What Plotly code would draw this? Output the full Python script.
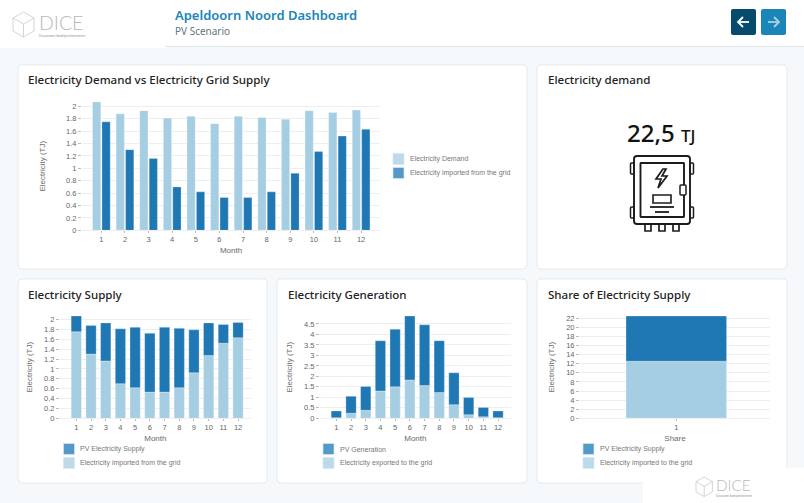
import plotly.graph_objects as go

W, H = 804, 503
months = list(range(1, 13))
demand = [2.07, 1.88, 1.93, 1.81, 1.84, 1.72, 1.84, 1.82, 1.79, 1.93, 1.90, 1.94]
imported = [1.75, 1.30, 1.16, 0.70, 0.62, 0.53, 0.53, 0.62, 0.92, 1.27, 1.52, 1.63]
pv_supply = [0.32, 0.58, 0.77, 1.11, 1.22, 1.19, 1.31, 1.20, 0.87, 0.66, 0.38, 0.31]
exported = [0.03, 0.24, 0.38, 1.30, 1.50, 1.83, 1.56, 1.23, 0.65, 0.17, 0.07, 0.03]
pv_generation = [0.32, 0.81, 1.14, 2.40, 2.75, 3.05, 2.90, 2.47, 1.52, 0.82, 0.45, 0.32]
share_cat = [1]
share_imported = [12.55]
share_pv = [9.95]

DARK, LIGHT = "#1f78b4", "#a6cee3"
SW_DARK, SW_LIGHT = "#5499c7", "#bcdaea"
EDGE = "rgba(255,255,255,0.35)"
TXT = "#6b6b6b"
AX = "Liberation Sans"
UI = "Noto Sans"


def fx(x):
    return x / W


def fy(y):
    return 1 - y / H


shapes, annos = [], []


def rect(x0, y0, x1, y1, fill, line=None, lw=1):
    shapes.append(dict(type="rect", xref="paper", yref="paper", layer="below",
                       x0=fx(x0), x1=fx(x1), y0=fy(y0), y1=fy(y1), fillcolor=fill,
                       line=dict(color=line or fill, width=lw if line else 0)))


def rrect(x0, y0, x1, y1, r, fill, line="rgba(0,0,0,0)", lw=1):
    k = [("M", x0 + r, y0), ("L", x1 - r, y0), ("Q", x1, y0, x1, y0 + r), ("L", x1, y1 - r),
         ("Q", x1, y1, x1 - r, y1), ("L", x0 + r, y1), ("Q", x0, y1, x0, y1 - r),
         ("L", x0, y0 + r), ("Q", x0, y0, x0 + r, y0)]
    d = ""
    for c in k:
        d += c[0] + " ".join(f"{fx(c[i]):.5f},{fy(c[i + 1]):.5f}" for i in range(1, len(c), 2)) + " "
    shapes.append(dict(type="path", xref="paper", yref="paper", layer="below", path=d + "Z",
                       fillcolor=fill, line=dict(color=line, width=lw)))


def poly(pts, color, lw=1, fill=None, close=False):
    d = "M" + " L".join(f"{fx(x):.5f},{fy(y):.5f}" for x, y in pts) + (" Z" if close else "")
    shapes.append(dict(type="path", xref="paper", yref="paper", layer="below", path=d,
                       fillcolor=fill or "rgba(0,0,0,0)", line=dict(color=color, width=lw)))


def text(x, y, s, size, color, family=UI, weight=None, anchor="left"):
    annos.append(dict(xref="paper", yref="paper", x=fx(x - 1 if anchor == "left" else x), y=fy(y), text=s,
                      showarrow=False, xanchor=anchor, yanchor="middle", borderpad=0,
                      font=dict(size=size, color=color, family=family, weight=weight)))


# page furniture
rect(0, 0, W, 46, "#ffffff")
rect(165, 46, W, 47, "#e3e6e8")
rect(0, 0, 165, 48, "#ffffff")
for box in [(18, 65, 527, 269), (537, 65, 787, 269), (18, 279, 267, 483),
            (277, 279, 527, 483), (537, 279, 787, 483)]:
    rrect(*box, 4, "#ffffff", "#e7eaec", 1)
rect(643, 468, W, H, "#ffffff")

text(175, 14.7, "Apeldoorn Noord Dashboard", 13, "#1a85b8", weight=600)
text(175, 31, "PV Scenario", 10, "#667580")


def logo(x, y, s, sub):
    c = "#b5b9bc"
    a = [(x + 10.5 * s, y), (x + 21 * s, y + 6 * s), (x + 21 * s, y + 19 * s), (x + 10.5 * s, y + 25 * s),
         (x, y + 19 * s), (x, y + 6 * s)]
    poly(a, c, 0.6, close=True)
    poly([(x, y + 6 * s), (x + 10.5 * s, y + 12 * s), (x + 21 * s, y + 6 * s)], c, 0.6)
    poly([(x + 10.5 * s, y + 12 * s), (x + 10.5 * s, y + 25 * s)], c, 0.6)
    text(x + 25.5 * s, y + 10.5 * s, "DICE", 19.5 * s, "#b5b9bc", family="Lato", weight=300)
    text(x + 26 * s, y + 24 * s, sub, 3.6 * s, "#8b8f93", family=AX)


logo(13, 12, 1, "Duurzame bedrijventerreinen")
logo(696, 477, 0.78, "Duurzame bedrijventerreinen")

# nav buttons
rrect(731, 9, 756, 35, 2, "#064a6e")
rrect(761, 9, 786, 35, 2, "#1a85b8")
poly([(738, 22), (749, 22)], "#ffffff", 1.8)
poly([(743, 17), (738, 22), (743, 27)], "#ffffff", 1.8)
poly([(768, 22), (779, 22)], "#a9d0e4", 1.8)
poly([(774, 17), (779, 22), (774, 27)], "#a9d0e4", 1.8)

# card titles
T = dict(size=11.55, color="#222222", weight=500)
text(28, 79.9, "Electricity Demand vs Electricity Grid Supply", **T)
text(547.5, 79.9, "Electricity demand", **T)
text(28, 294.4, "Electricity Supply", **T)
text(288, 294.4, "Electricity Generation", **T)
text(548, 294.4, "Share of Electricity Supply", **T)

# KPI
text(661, 133, "22,5 <span style='font-size:17px'>TJ</span>", 24, "#111111", anchor="center", weight=500)

# meter cabinet icon
I = "#1c1c1c"
rrect(634, 156, 690, 224, 3, "rgba(0,0,0,0)", I, 1.9)
rrect(640.5, 163, 684, 217, 0.5, "rgba(0,0,0,0)", I, 1.9)
for bx, by in [(630.5, 163), (690, 163), (630.5, 207), (690, 207)]:
    rrect(bx, by, bx + 3.5, by + 11, 1, "rgba(0,0,0,0)", I, 1.5)
rrect(680, 185, 686, 195, 1, "#ffffff", I, 1.5)
for bx in (645, 659, 673):
    poly([(bx, 224), (bx, 231), (bx + 6, 231), (bx + 6, 224)], I, 1.7)
poly([(663, 169), (656, 179), (661, 179), (658, 188), (667, 176), (662, 176), (666, 169)], I, 1.7, close=True)
poly([(653, 195), (671, 195), (671, 203), (653, 203)], I, 1.6, close=True)
poly([(650, 207), (674, 207)], I, 1.8)
poly([(655, 212), (669, 212)], I, 1.8)


# legends drawn at their source positions
def legend(x, ys, names, fills, tx):
    for y, n, f in zip(ys, names, fills):
        rect(x, y - 5.5, x + 11, y + 5.5, f, "#d6e8f2", 0.7)
        text(tx, y, n, 7, "#777777", family=AX)


legend(393, [159, 173], ["Electricity Demand", "Electricity imported from the grid"], [SW_LIGHT, SW_DARK], 410)
legend(63.5, [449, 463], ["PV Electricity Supply", "Electricity imported from the grid"], [SW_DARK, SW_LIGHT], 80)
legend(323, [449, 463], ["PV Generation", "Electricity exported to the grid"], [SW_DARK, SW_LIGHT], 339.7)
legend(583, [449, 463], ["PV Electricity Supply", "Electricity imported to the grid"], [SW_DARK, SW_LIGHT], 599.7)

fig = go.Figure()
fig.add_bar(x=months, y=demand, name="Electricity Demand", marker_color=LIGHT, xaxis="x", yaxis="y",
            offsetgroup="a")
fig.add_bar(x=months, y=imported, name="Electricity imported from the grid", marker_color=DARK, xaxis="x", yaxis="y",
            offsetgroup="b")
fig.add_bar(x=months, y=imported, name="Electricity imported from the grid", marker_color=LIGHT, xaxis="x2", yaxis="y2",
            offsetgroup="c")
fig.add_bar(x=months, y=pv_supply, name="PV Electricity Supply", marker_color=DARK, xaxis="x2", yaxis="y2",
            offsetgroup="c", base=imported)
fig.add_bar(x=months, y=exported, name="Electricity exported to the grid", marker_color=LIGHT, xaxis="x3", yaxis="y3",
            offsetgroup="d")
fig.add_bar(x=months, y=pv_generation, name="PV Generation", marker_color=DARK, xaxis="x3", yaxis="y3",
            offsetgroup="d", base=exported)
fig.add_bar(x=share_cat, y=share_imported, name="Electricity imported to the grid", marker_color=LIGHT,
            xaxis="x4", yaxis="y4", offsetgroup="e", width=0.7)
fig.add_bar(x=share_cat, y=share_pv, name="PV Electricity Supply", marker_color=DARK,
            xaxis="x4", yaxis="y4", offsetgroup="e", base=share_imported, width=0.7)
fig.update_traces(marker_line_color=EDGE, marker_line_width=0.8, showlegend=False, hoverinfo="skip")
fig.data[0].width = 0.35
fig.data[1].width = 0.35
for t in fig.data[2:6]:
    t.width = 0.7


def axes(n, left, right, top, bottom, xr, yr, dy, xtitle, xtick, ystand):
    xk, yk = ("xaxis", "yaxis") if n == 1 else (f"xaxis{n}", f"yaxis{n}")
    tick = dict(size=7.5, color="#666666", family=AX)
    fig.layout[xk] = dict(domain=[fx(left), fx(right)], range=xr, anchor=f"y{n if n > 1 else ''}", tickvals=xtick,
                          ticks="outside", ticklen=2, tickcolor="#bbbbbb", tickfont=tick, showgrid=False,
                          zeroline=False, showline=True, linecolor="#eeeeee", linewidth=1,
                          title=dict(text=xtitle, font=dict(size=8, color=TXT, family=AX), standoff=4),
                          automargin=False, fixedrange=True)
    fig.layout[yk] = dict(domain=[fy(bottom), fy(top)], range=yr, anchor=f"x{n if n > 1 else ''}", dtick=dy, tick0=0,
                          ticks="outside", ticklen=3, tickcolor="#bbbbbb", tickfont=tick, showgrid=True,
                          gridcolor="#eeeeee", gridwidth=1, zeroline=False, showline=False,
                          title=dict(text="Electricity (TJ)", font=dict(size=8, color=TXT, family=AX), standoff=ystand),
                          automargin=False, fixedrange=True)


axes(1, 82, 380, 102, 230.3, [0.18, 12.8], [0, 2.07], 0.2, "Month", months, 19)
axes(2, 60, 250.7, 316, 418.3, [-0.11, 12.86], [0, 2.07], 0.2, "Month", months, 10)
axes(3, 320, 510.7, 316, 418.3, [-0.11, 12.86], [0, 4.88], 0.5, "Month", months, 10)
axes(4, 580, 770, 316, 418.3, [0.33, 1.652], [0, 22.5], 2, "Share", share_cat, 10)

fig.update_layout(width=W, height=H, margin=dict(l=0, r=0, t=0, b=0, pad=0), autosize=False,
                  paper_bgcolor="#f5f9fc", plot_bgcolor="rgba(0,0,0,0)", barmode="overlay", showlegend=False,
                  shapes=shapes, annotations=annos, font=dict(family=AX))

fig.write_html("out.html", config=dict(displayModeBar=False),
               post_script="document.body.style.margin='0';document.body.style.overflow='hidden';")
